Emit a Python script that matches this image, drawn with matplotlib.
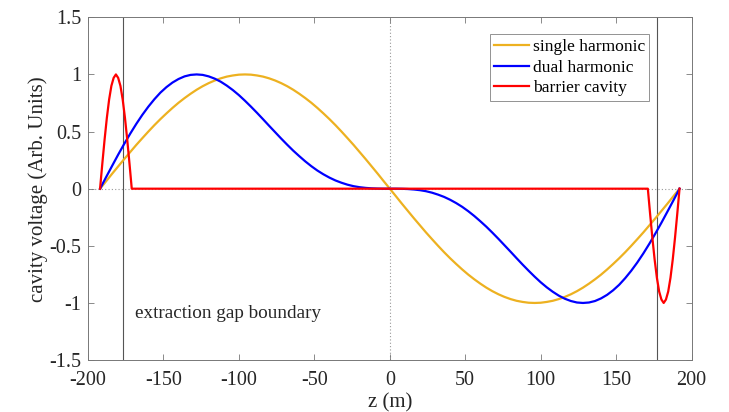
import matplotlib
matplotlib.use("Agg")
import matplotlib.pyplot as plt

plt.rcParams["font.family"] = ["Liberation Serif", "DejaVu Serif"]

# single and dual harmonic, read every 4 m from -192 m up to the centre
z_rf = [-192 + 4 * k for k in range(97)]
single_half = [0.0, 0.065, 0.131, 0.195, 0.259, 0.321, 0.383, 0.442, 0.500, 0.556,
               0.609, 0.659, 0.707, 0.752, 0.793, 0.831, 0.866, 0.897, 0.924, 0.947,
               0.966, 0.981, 0.991, 0.998, 1.000, 0.998, 0.991, 0.981, 0.966, 0.947,
               0.924, 0.897, 0.866, 0.831, 0.793, 0.752, 0.707, 0.659, 0.609, 0.556,
               0.500, 0.442, 0.383, 0.321, 0.259, 0.195, 0.131, 0.065]
single_v = single_half + [0.0] + [-v for v in single_half[1:]] + [0.0]

dual_half = [0.0, 0.101, 0.200, 0.298, 0.392, 0.482, 0.567, 0.646, 0.718, 0.783,
             0.841, 0.889, 0.929, 0.960, 0.983, 0.996, 1.000, 0.996, 0.983, 0.963,
             0.936, 0.902, 0.863, 0.819, 0.770, 0.718, 0.664, 0.608, 0.551, 0.495,
             0.439, 0.385, 0.333, 0.285, 0.239, 0.197, 0.159, 0.126, 0.097, 0.072,
             0.052, 0.035, 0.022, 0.013, 0.007, 0.003, 0.001, 0.000]
dual_v = dual_half + [0.0] + [-v for v in dual_half[::-1][:-1]] + [0.0]

# barrier cavity pulses at both ends
barrier_pulse = [0.0, 0.22, 0.43, 0.62, 0.78, 0.90, 0.97, 1.00, 0.97, 0.90, 0.78, 0.62, 0.43, 0.22, 0.0]
z_left = [-192 + 1.5 * k for k in range(15)]
z_right = [171 + 1.5 * k for k in range(15)]
z_barrier = z_left + z_right
barrier_v = barrier_pulse + [-v for v in barrier_pulse]

gap_edges = [-177, 177]

fig = plt.figure(figsize=(7.29, 4.12), dpi=100)
ax = fig.add_axes([0.1207, 0.126, 0.828, 0.832])

ax.axhline(0, color="#999999", lw=0.8, ls=(0, (1, 2)), zorder=1)
ax.axvline(0, color="#999999", lw=0.8, ls=(0, (1, 2)), zorder=1)
for g in gap_edges:
    ax.axvline(g, color="#555555", lw=0.8, zorder=1)

ax.plot(z_rf, single_v, color="#EDB120", lw=1.6, label="single harmonic", zorder=3)
ax.plot(z_rf, dual_v, color="#0000FF", lw=1.6, label="dual harmonic", zorder=4)
ax.plot(z_barrier, barrier_v, color="#FF0000", lw=1.6, label="barrier cavity", zorder=5)

ax.text(-169, -1.09, "extraction gap boundary", fontsize=13.8, color="#262626", va="center")

ax.set_xlim(-200, 200)
ax.set_ylim(-1.5, 1.5)
ax.set_xticks([-200, -150, -100, -50, 0, 50, 100, 150, 200])
ax.set_yticks([-1.5, -1, -0.5, 0, 0.5, 1, 1.5])
ax.set_yticklabels(["-1.5", "-1", "-0.5", "0", "0.5", "1", "1.5"])
ax.set_xticklabels(["-200", "-150", "-100", "-50", "0", "50", "100", "150", "200"])
ax.tick_params(direction="in", top=True, right=True, length=4, width=0.6,
               colors="#777777", labelcolor="#262626", labelsize=14.5)
ax.tick_params(axis="x", pad=8)
ax.tick_params(axis="y", pad=5)
for s in ax.spines.values():
    s.set_color("#777777")
    s.set_linewidth(0.7)

ax.set_xlabel("z (m)", fontsize=15, color="#262626", labelpad=2)
ax.set_ylabel("cavity voltage (Arb. Units)", fontsize=15, color="#262626", labelpad=1)

leg = ax.legend(loc="upper right", bbox_to_anchor=(0.930, 0.950), fontsize=12.6,
                frameon=True, fancybox=False, edgecolor="#777777",
                handlelength=2.0, handletextpad=0.2, borderpad=0.25, labelspacing=0.25,
                borderaxespad=0)
leg.get_frame().set_linewidth(0.7)

fig.savefig("out.png", dpi=100)
